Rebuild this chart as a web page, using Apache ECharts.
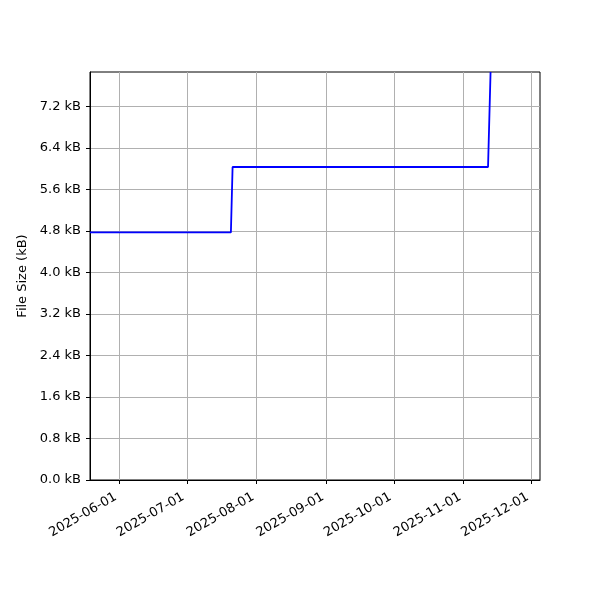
<!DOCTYPE html>
<html>
<head>
<meta charset="utf-8">
<script src="https://cdn.jsdelivr.net/npm/echarts@6/dist/echarts.min.js"></script>
<style>
html,body{margin:0;padding:0;background:#fff;}
#chart{width:600px;height:600px;}
</style>
</head>
<body>
<div id="chart"></div>
<script>
// data
const dates = ['2025-05-19T00:00', '2025-07-20T14:00', '2025-07-21T08:00', '2025-11-11T19:00', '2025-11-12T22:00'];
const sizes = [4.77, 4.77, 6.03, 6.03, 7.86];
const xTickLabels = ['2025-06-01', '2025-07-01', '2025-08-01', '2025-09-01', '2025-10-01', '2025-11-01', '2025-12-01'];
const yTicks = [0, 0.8, 1.6, 2.4, 3.2, 4.0, 4.8, 5.6, 6.4, 7.2];
const xMin = '2025-05-19T00:00';
const xMax = '2025-12-04T21:00';
const yMax = 7.86;

const t = s => new Date(s.length === 10 ? s + 'T00:00' : s).getTime();
const pad = n => (n < 10 ? '0' : '') + n;
const fmtDate = v => {
    const d = new Date(v);
    return d.getFullYear() + '-' + pad(d.getMonth() + 1) + '-' + pad(d.getDate());
};
const xTicks = xTickLabels.map(t);

let myChart = echarts.init(document.getElementById('chart'));
let option = {
    animation: false,
    textStyle: { fontFamily: 'DejaVu Sans' },
    grid: {
        left: 90, right: 60, top: 72, bottom: 120,
        show: true, borderColor: '#000', borderWidth: 1
    },
    xAxis: {
        type: 'value',
        min: t(xMin),
        max: t(xMax),
        axisLine: { show: true, lineStyle: { color: '#000', width: 1 } },
        axisTick: { show: true, length: 4, lineStyle: { color: '#000' }, customValues: xTicks },
        axisLabel: {
            color: '#000', fontSize: 13, rotate: 30, margin: 14,
            padding: [0, 4, 0, 0],
            customValues: xTicks,
            formatter: v => fmtDate(v)
        },
        splitLine: { show: true, lineStyle: { color: '#b0b0b0', width: 1 } }
    },
    yAxis: {
        type: 'value',
        min: 0,
        max: yMax,
        name: 'File Size (kB)',
        nameLocation: 'middle',
        nameGap: 50,
        nameTextStyle: { color: '#000', fontSize: 13 },
        axisLine: { show: true, lineStyle: { color: '#000', width: 1 } },
        axisTick: { show: true, length: 4, lineStyle: { color: '#000' }, customValues: yTicks },
        axisLabel: {
            color: '#000', fontSize: 13, margin: 9,
            customValues: yTicks,
            formatter: v => v.toFixed(1) + ' kB'
        },
        splitLine: { show: true, lineStyle: { color: '#b0b0b0', width: 1 } }
    },
    series: [{
        type: 'line',
        data: dates.map((d, i) => [t(d), sizes[i]]),
        showSymbol: false,
        symbol: 'none',
        clip: true,
        lineStyle: { color: '#0000ff', width: 1.8 }
    }]
};
myChart.setOption(option);
</script>
</body>
</html>
